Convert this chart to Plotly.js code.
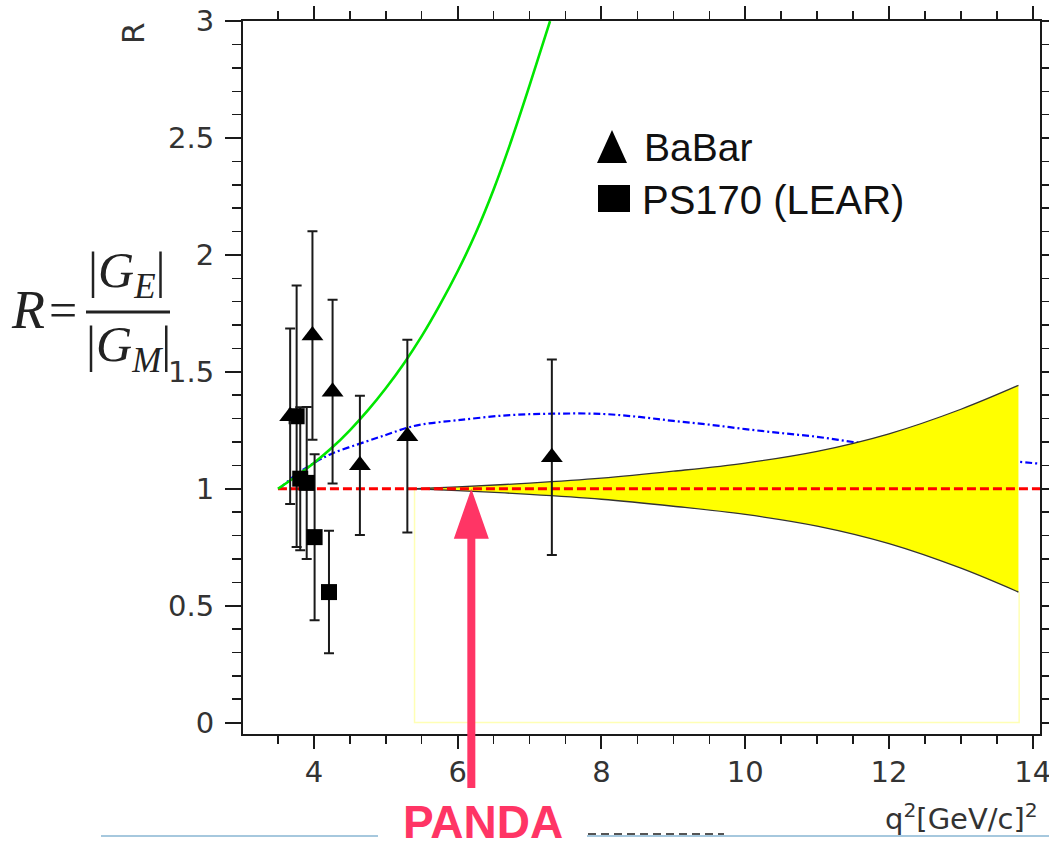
<!DOCTYPE html>
<html><head><meta charset="utf-8">
<script src="https://cdn.plot.ly/plotly-3.0.1.min.js"></script>
<style>html,body{margin:0;padding:0;background:#fff;}#chart{width:1049px;height:844px;}</style>
</head><body><div id="chart"></div>
<script>
// ---- data ----
const babarQ2  = [3.67, 3.98, 4.26, 4.64, 5.30, 7.31];
const babarR   = [1.31, 1.655, 1.415, 1.10, 1.225, 1.135];
const babarErr = [0.375, 0.446, 0.393, 0.298, 0.412, 0.418];

const ps170Q2  = [3.76, 3.81, 3.90, 4.01, 4.21];
const ps170R   = [1.31, 1.043, 1.025, 0.793, 0.558];
const ps170Err = [0.559, 0.306, 0.325, 0.355, 0.262];

const greenQ2 = [3.5, 3.75, 4.0, 4.25, 4.5, 4.75, 5.0, 5.25, 5.5, 5.75, 6.0, 6.25, 6.5, 6.75, 7.0, 7.285];
const greenR  = [1.0, 1.0525, 1.11, 1.175, 1.25, 1.335, 1.43, 1.535, 1.6525, 1.785, 1.93, 2.0925, 2.28, 2.4925, 2.725, 3.0];

const blueQ2 = [3.52, 3.75, 4.0, 4.25, 4.64, 5.0, 5.29, 5.5, 6.0, 6.68, 7.32, 8.0, 8.53, 9.0, 9.5, 10.0, 10.5, 11.0, 11.5, 12.0, 12.5, 13.0, 13.5, 14.1];
const blueR  = [1.0, 1.06, 1.11, 1.15, 1.193, 1.23, 1.26, 1.275, 1.293, 1.314, 1.321, 1.32, 1.307, 1.29, 1.274, 1.255, 1.238, 1.222, 1.20, 1.18, 1.16, 1.14, 1.124, 1.107];

const bandQ2    = [5.42, 6.0, 7.0, 8.0, 9.0, 10.0, 11.0, 12.0, 13.0, 13.8];
const bandUpper = [1.0, 1.008, 1.024, 1.045, 1.075, 1.11, 1.16, 1.235, 1.34, 1.442];
const bandLower = [1.0, 0.992, 0.976, 0.955, 0.925, 0.89, 0.84, 0.765, 0.66, 0.558];

const boxQ2 = [5.40, 5.40, 13.81, 13.81];
const boxR  = [1.0, 0.0, 0.0, 0.558];

const unityQ2 = [3.5, 14.1];
const unityR  = [1.0, 1.0];

const pandaQ2 = 6.19;
const pandaR  = 1.0;

const xTickVals = [4, 6, 8, 10, 12, 14];
const yTickVals = [0, 0.5, 1, 1.5, 2, 2.5, 3];
const yTickText = ['0', '0.5', '1', '1.5', '2', '2.5', '3'];

// ---- layout helpers ----
const M = {l: 243, r: 9, t: 21, b: 110};
const W = 1049 - M.l - M.r, H = 844 - M.t - M.b;
const fx = px => (px - M.l) / W;
const fy = py => (844 - M.b - py) / H;
const xr = [3.014, 14.1], yr = [-0.049, 3.0005];

const tickFont = {family: 'DejaVu Sans', size: 29, color: '#333'};
const ink = '#1a1a1a';
const pink = '#ff3565';

const traces = [
  {x: boxQ2, y: boxR, mode: 'lines', line: {color: 'rgba(255,255,150,0.7)', width: 1.5}, hoverinfo: 'skip', showlegend: false},
  {x: blueQ2, y: blueR, mode: 'lines', line: {color: '#0000ff', width: 2.2, dash: '7px,3px,2px,3px', shape: 'spline'}, showlegend: false},
  {x: bandQ2, y: bandLower, mode: 'lines', line: {color: '#333', width: 1.3, shape: 'spline'}, showlegend: false},
  {x: bandQ2, y: bandUpper, mode: 'lines', fill: 'tonexty', fillcolor: '#ffff00', line: {color: '#333', width: 1.3, shape: 'spline'}, showlegend: false},
  {x: unityQ2, y: unityR, mode: 'lines', line: {color: '#ff0000', width: 3, dash: '9px,4px'}, showlegend: false},
  {x: greenQ2, y: greenR, mode: 'lines', line: {color: '#00e600', width: 2.6, shape: 'spline'}, showlegend: false},
  {x: ps170Q2, y: ps170R, mode: 'markers', name: 'PS170 (LEAR)', marker: {symbol: 'square', size: 16, color: '#000'},
   error_y: {type: 'data', array: ps170Err, visible: true, color: ink, thickness: 2, width: 5}, showlegend: false},
  {x: babarQ2, y: babarR, mode: 'markers', name: 'BaBar', marker: {symbol: 'triangle-up', size: 19, color: '#000'},
   error_y: {type: 'data', array: babarErr, visible: true, color: ink, thickness: 2, width: 5}, showlegend: false}
];

// PANDA arrow (paper coords derived from the data position)
const ax = (pandaQ2 - xr[0]) / (xr[1] - xr[0]);
const tipY = (pandaR - yr[0]) / (yr[1] - yr[0]);
const hs = 4 / W, hh = 17.5 / W, hl = 50 / H, bot = fy(788);
const arrowPath = `M${ax-hs},${bot} L${ax+hs},${bot} L${ax+hs},${tipY-hl} L${ax+hh},${tipY-hl} L${ax},${tipY} L${ax-hh},${tipY-hl} L${ax-hs},${tipY-hl} Z`;

const shapes = [
  {type: 'path', xref: 'paper', yref: 'paper', path: arrowPath, fillcolor: pink, line: {width: 0}, layer: 'above'},
  {type: 'line', xref: 'paper', yref: 'paper', x0: fx(86), x1: fx(170), y0: fy(312), y1: fy(312), line: {color: '#222', width: 3}},
  {type: 'path', xref: 'paper', yref: 'paper', path: `M${fx(597)},${fy(163)} L${fx(627)},${fy(163)} L${fx(612)},${fy(130)} Z`, fillcolor: '#000', line: {width: 0}},
  {type: 'rect', xref: 'paper', yref: 'paper', x0: fx(598), x1: fx(630), y0: fy(212), y1: fy(185), fillcolor: '#000', line: {width: 0}},
  {type: 'line', xref: 'paper', yref: 'paper', x0: fx(101), x1: fx(378), y0: fy(836), y1: fy(836), line: {color: '#a6c8de', width: 2}},
  {type: 'line', xref: 'paper', yref: 'paper', x0: fx(587), x1: fx(1049), y0: fy(836), y1: fy(836), line: {color: '#a6c8de', width: 2}},
  {type: 'line', xref: 'paper', yref: 'paper', x0: fx(588), x1: fx(724), y0: fy(834), y1: fy(834), line: {color: '#555', width: 2, dash: '8px,5px'}}
];

const serif = 'Liberation Serif, Times New Roman, serif';
const annotations = [
  {xref: 'paper', yref: 'paper', x: fx(28), y: fy(310), text: '<i>R</i>', showarrow: false, xanchor: 'center', yanchor: 'middle', font: {family: serif, size: 54, color: '#222'}},
  {xref: 'paper', yref: 'paper', x: fx(63), y: fy(310), text: '=', showarrow: false, xanchor: 'center', yanchor: 'middle', font: {family: serif, size: 50, color: '#222'}},
  {xref: 'paper', yref: 'paper', x: fx(127), y: fy(274), text: '|<i>G<sub>E</sub></i>|', showarrow: false, xanchor: 'center', yanchor: 'middle', font: {family: serif, size: 50, color: '#222'}},
  {xref: 'paper', yref: 'paper', x: fx(128), y: fy(348), text: '|<i>G<sub>M</sub></i>|', showarrow: false, xanchor: 'center', yanchor: 'middle', font: {family: serif, size: 50, color: '#222'}},
  {xref: 'paper', yref: 'paper', x: fx(133), y: fy(33), text: 'R', textangle: -90, showarrow: false, xanchor: 'center', yanchor: 'middle', font: {family: 'DejaVu Sans', size: 31, color: '#333'}},
  {xref: 'paper', yref: 'paper', x: fx(642), y: fy(147), text: 'BaBar', showarrow: false, xanchor: 'left', yanchor: 'middle', font: {family: 'Liberation Sans, Arial', size: 39, color: '#111'}},
  {xref: 'paper', yref: 'paper', x: fx(640), y: fy(200), text: 'PS170 (LEAR)', showarrow: false, xanchor: 'left', yanchor: 'middle', font: {family: 'Liberation Sans, Arial', size: 40, color: '#111'}},
  {xref: 'paper', yref: 'paper', x: fx(1040), y: fy(817), text: 'q<sup>2</sup>[GeV/c]<sup>2</sup>', showarrow: false, xanchor: 'right', yanchor: 'middle', font: {family: 'DejaVu Sans', size: 29, color: '#333'}},
  {xref: 'paper', yref: 'paper', x: fx(483), y: fy(822), text: '<b>PANDA</b>', showarrow: false, xanchor: 'center', yanchor: 'middle', font: {family: 'Liberation Sans, Arial', size: 46, color: pink}}
];

const layout = {
  width: 1049, height: 844,
  margin: M,
  paper_bgcolor: '#fff', plot_bgcolor: '#fff',
  showlegend: false,
  xaxis: {
    range: xr, tickvals: xTickVals, ticks: 'outside', ticklen: 13, tickwidth: 2, tickcolor: ink,
    showline: true, linewidth: 2, linecolor: ink, mirror: 'allticks', showgrid: false, zeroline: false,
    tickfont: tickFont, ticklabelstandoff: -2, ticklabeloverflow: 'allow',
    minor: {dtick: 0.5, tick0: 0, ticks: 'outside', ticklen: 8, tickwidth: 1.5, tickcolor: ink, showgrid: false}
  },
  yaxis: {
    range: yr, tickvals: yTickVals, ticktext: yTickText, ticks: 'outside', ticklen: 16, tickwidth: 2, tickcolor: ink,
    showline: true, linewidth: 2, linecolor: ink, mirror: 'allticks', showgrid: false, zeroline: false,
    tickfont: tickFont, ticklabelstandoff: 5, ticklabeloverflow: 'allow',
    minor: {dtick: 0.1, tick0: 0, ticks: 'outside', ticklen: 9, tickwidth: 1.5, tickcolor: ink, showgrid: false}
  },
  shapes: shapes,
  annotations: annotations
};

Plotly.newPlot('chart', traces, layout, {displayModeBar: false, staticPlot: true});
</script>
</body></html>
